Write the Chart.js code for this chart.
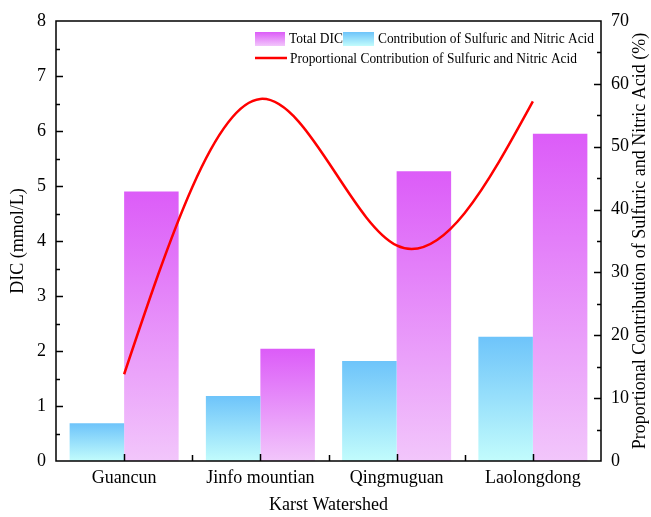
<!DOCTYPE html>
<html>
<head>
<meta charset="utf-8">
<script src="https://cdn.jsdelivr.net/npm/chart.js@4"></script>
<style>
    body { margin: 0; background: #fff; }
    #wrap { width: 651px; height: 517px; }
</style>
</head>
<body>
<div id="wrap"><canvas id="chart" width="651" height="517"></canvas></div>
<script>
// datos
const categories = ['Guancun', 'Jinfo mountian', 'Qingmuguan', 'Laolongdong'];
const totalDIC = [4.90, 2.04, 5.27, 5.95];
const acidDIC = [0.685, 1.18, 1.82, 2.26];
const acidPercent = [13.8, 57.6, 34.3, 57.2];

const FONT = 'Liberation Serif';
const BLUE_TOP = '#6ec4fa', BLUE_BOTTOM = '#c2fcfc';
const MAG_TOP = '#dc5cf8', MAG_BOTTOM = '#f2c6fb';

// degradado vertical por barra, desde su valor hasta cero
function barGradient(top, bottom) {
    return function (ctx) {
        const chart = ctx.chart;
        if (!chart.chartArea || ctx.type !== 'data' || !chart.scales.y) return top;
        const y = chart.scales.y;
        const y0 = y.getPixelForValue(0);
        const y1 = y.getPixelForValue(ctx.raw);
        if (!isFinite(y0) || !isFinite(y1) || y0 === y1) return top;
        const g = chart.ctx.createLinearGradient(0, y1, 0, y0);
        g.addColorStop(0, top);
        g.addColorStop(1, bottom);
        return g;
    };
}

// spline cubica natural (como Origin): puntos de control bezier a partir de los puntos de la linea
const naturalSpline = {
    id: 'naturalSpline',
    beforeDatasetsDraw(chart) {
        chart.data.datasets.forEach((ds, i) => {
            if (ds.type !== 'line') return;
            const meta = chart.getDatasetMeta(i);
            const pts = meta.data;
            const n = pts.length;
            if (n < 3) return;
            // sistema tridiagonal para las segundas derivadas (parametro uniforme)
            const M = new Array(n).fill(0);
            const m = n - 2;
            const a = [], b = [], c = [], d = [];
            for (let k = 0; k < m; k++) {
                a.push(1); b.push(4); c.push(1);
                d.push(6 * (pts[k].y - 2 * pts[k + 1].y + pts[k + 2].y));
            }
            for (let k = 1; k < m; k++) {
                const w = a[k] / b[k - 1];
                b[k] -= w * c[k - 1];
                d[k] -= w * d[k - 1];
            }
            const sol = new Array(m);
            sol[m - 1] = d[m - 1] / b[m - 1];
            for (let k = m - 2; k >= 0; k--) sol[k] = (d[k] - c[k] * sol[k + 1]) / b[k];
            for (let k = 0; k < m; k++) M[k + 1] = sol[k];

            for (let k = 0; k < n - 1; k++) {
                const p = pts[k], q = pts[k + 1];
                const dy = q.y - p.y;
                const d0 = dy - (2 * M[k] + M[k + 1]) / 6;
                const d1 = dy + (M[k] + 2 * M[k + 1]) / 6;
                const hx = (q.x - p.x) / 3;
                p.cp2x = p.x + hx; p.cp2y = p.y + d0 / 3;
                q.cp1x = q.x - hx; q.cp1y = q.y - d1 / 3;
            }
            pts[0].cp1x = pts[0].x; pts[0].cp1y = pts[0].y;
            pts[n - 1].cp2x = pts[n - 1].x; pts[n - 1].cp2y = pts[n - 1].y;
            meta.dataset._pointsUpdated = true;
            meta.dataset._path = undefined;
        });
    }
};

// marco, ticks hacia adentro, leyenda y titulo derecho
const framePlugin = {
    id: 'frame',
    afterDraw(chart) {
        const c = chart.ctx;
        const a = chart.chartArea;
        const x = chart.scales.x, y = chart.scales.y, y1 = chart.scales.y1;
        c.save();
        c.strokeStyle = '#000';
        c.lineWidth = 1.5;
        c.strokeRect(a.left, a.top, a.right - a.left, a.bottom - a.top);

        c.beginPath();
        for (let v = 0.5; v < 8; v += 0.5) {
            const py = Math.round(y.getPixelForValue(v)) + 0.5;
            const len = Number.isInteger(v) ? 7 : 4;
            c.moveTo(a.left, py); c.lineTo(a.left + len, py);
        }
        for (let v = 5; v < 70; v += 5) {
            const py = Math.round(y1.getPixelForValue(v)) + 0.5;
            const len = v % 10 === 0 ? 7 : 4;
            c.moveTo(a.right, py); c.lineTo(a.right - len, py);
        }
        for (let i = 0; i < categories.length; i++) {
            const px = Math.round(x.getPixelForValue(i)) + 0.5;
            c.moveTo(px, a.bottom); c.lineTo(px, a.bottom - 7);
            if (i < categories.length - 1) {
                const mid = Math.round((x.getPixelForValue(i) + x.getPixelForValue(i + 1)) / 2) + 0.5;
                c.moveTo(mid, a.bottom); c.lineTo(mid, a.bottom - 6);
            }
        }
        c.stroke();

        // leyenda
        c.font = '15px "' + FONT + '"';
        c.textBaseline = 'middle';
        let g = c.createLinearGradient(0, 32, 0, 46);
        g.addColorStop(0, MAG_TOP); g.addColorStop(1, MAG_BOTTOM);
        c.fillStyle = g;
        c.fillRect(255, 32, 30, 14);
        g = c.createLinearGradient(0, 32, 0, 46);
        g.addColorStop(0, BLUE_TOP); g.addColorStop(1, BLUE_BOTTOM);
        c.fillStyle = g;
        c.fillRect(343, 32, 31, 14);
        c.fillStyle = '#000';
        c.fillText('Total DIC', 289, 39, 54);
        c.fillText('Contribution of Sulfuric and Nitric Acid', 378, 39, 216);
        c.strokeStyle = '#ff0000';
        c.lineWidth = 2.5;
        c.beginPath();
        c.moveTo(255, 58); c.lineTo(287, 58);
        c.stroke();
        c.fillText('Proportional Contribution of Sulfuric and Nitric Acid', 290, 59, 287);

        // titulo del eje derecho
        c.translate(640, (a.top + a.bottom) / 2);
        c.rotate(-Math.PI / 2);
        c.font = '18px "' + FONT + '"';
        c.textAlign = 'center';
        c.textBaseline = 'middle';
        c.fillText('Proportional Contribution of Sulfuric and Nitric Acid (%)', 0, 0, 422);
        c.restore();
    }
};

const tickFont = { family: FONT, size: 18 };

new Chart(document.getElementById('chart').getContext('2d'), {
    type: 'bar',
    data: {
        labels: categories,
        datasets: [
            {
                label: 'Contribution of Sulfuric and Nitric Acid',
                data: acidDIC,
                backgroundColor: barGradient(BLUE_TOP, BLUE_BOTTOM),
                borderWidth: 0,
                categoryPercentage: 0.8,
                barPercentage: 1.0,
                yAxisID: 'y',
                order: 1
            },
            {
                label: 'Total DIC',
                data: totalDIC,
                backgroundColor: barGradient(MAG_TOP, MAG_BOTTOM),
                borderWidth: 0,
                categoryPercentage: 0.8,
                barPercentage: 1.0,
                yAxisID: 'y',
                order: 1
            },
            {
                type: 'line',
                label: 'Proportional Contribution of Sulfuric and Nitric Acid',
                data: acidPercent,
                borderColor: '#ff0000',
                borderWidth: 2.5,
                pointRadius: 0,
                tension: 0.4,
                fill: false,
                yAxisID: 'y1',
                order: 0
            }
        ]
    },
    options: {
        responsive: false,
        animation: false,
        layout: { padding: { top: 21, left: 0, right: 0, bottom: 0 } },
        plugins: { legend: { display: false }, tooltip: { enabled: false } },
        scales: {
            x: {
                offset: true,
                grid: { display: false, drawTicks: false },
                border: { display: false },
                ticks: { color: '#000', font: tickFont, padding: 6, maxRotation: 0 },
                title: { display: true, text: 'Karst Watershed', color: '#000', font: tickFont, padding: { top: 0, bottom: 1 } },
                afterFit(scale) { scale.height = 56; }
            },
            y: {
                position: 'left',
                min: 0,
                max: 8,
                grid: { display: false, drawTicks: false },
                border: { display: false },
                ticks: { stepSize: 1, color: '#000', font: tickFont, padding: 10 },
                title: { display: true, text: 'DIC (mmol/L)', color: '#000', font: tickFont, padding: { top: 7, bottom: 0 } },
                afterFit(scale) { scale.width = 56; }
            },
            y1: {
                position: 'right',
                min: 0,
                max: 70,
                grid: { display: false, drawTicks: false },
                border: { display: false },
                ticks: { stepSize: 10, color: '#000', font: tickFont, padding: 10 },
                afterFit(scale) { scale.width = 50; }
            }
        }
    },
    plugins: [naturalSpline, framePlugin]
});
</script>
</body>
</html>
